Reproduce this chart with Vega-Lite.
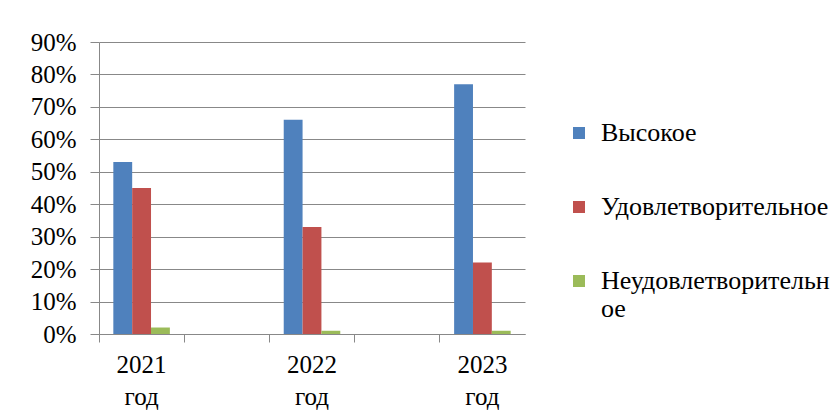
{
  "$schema": "https://vega.github.io/schema/vega-lite/v6.json",
  "width": 426,
  "height": 292,
  "autosize": "none",
  "padding": {"left": 99, "top": 42, "right": 313, "bottom": 85},
  "background": "white",
  "data": {
    "values": [
      {"year": "2021 год", "level": "Высокое", "share": 0.53},
      {"year": "2021 год", "level": "Удовлетворительное", "share": 0.45},
      {"year": "2021 год", "level": "Неудовлетворительное", "share": 0.02},
      {"year": "2022 год", "level": "Высокое", "share": 0.66},
      {"year": "2022 год", "level": "Удовлетворительное", "share": 0.33},
      {"year": "2022 год", "level": "Неудовлетворительное", "share": 0.01},
      {"year": "2023 год", "level": "Высокое", "share": 0.77},
      {"year": "2023 год", "level": "Удовлетворительное", "share": 0.22},
      {"year": "2023 год", "level": "Неудовлетворительное", "share": 0.01}
    ]
  },
  "mark": {"type": "bar"},
  "encoding": {
    "x": {
      "field": "year",
      "type": "nominal",
      "scale": {
        "domain": ["2021 год", "gap1", "2022 год", "gap2", "2023 год"],
        "paddingInner": 0,
        "paddingOuter": 0
      },
      "axis": {
        "title": null,
        "bandPosition": 0,
        "tickSize": 8,
        "tickColor": "#888888",
        "domainColor": "#888888",
        "labelAngle": 0,
        "labelPadding": 10,
        "labelFont": "Liberation Serif",
        "labelFontSize": 25,
        "labelLineHeight": 32,
        "labelColor": "black",
        "labelExpr": "indexof(datum.value, 'gap') == 0 ? '' : split(datum.value, ' ')"
      }
    },
    "xOffset": {
      "field": "level",
      "type": "nominal",
      "scale": {
        "domain": ["Высокое", "Удовлетворительное", "Неудовлетворительное"],
        "paddingInner": 0,
        "paddingOuter": 0.76
      }
    },
    "y": {
      "field": "share",
      "type": "quantitative",
      "scale": {"domain": [0, 0.9], "nice": false},
      "axis": {
        "title": null,
        "tickCount": 9,
        "format": ".0%",
        "tickSize": 9,
        "tickColor": "#888888",
        "domainColor": "#888888",
        "gridColor": "#888888",
        "labelPadding": 14,
        "labelFont": "Liberation Serif",
        "labelFontSize": 25,
        "labelColor": "black"
      }
    },
    "color": {
      "field": "level",
      "type": "nominal",
      "scale": {
        "domain": ["Высокое", "Удовлетворительное", "Неудовлетворительное"],
        "range": ["#4F81BD", "#C0504D", "#9BBB59"]
      },
      "legend": {
        "title": null,
        "orient": "none",
        "legendX": 467,
        "legendY": 78,
        "symbolType": "square",
        "symbolSize": 144,
        "symbolStrokeWidth": 0,
        "labelFont": "Liberation Serif",
        "labelFontSize": 26,
        "labelColor": "black",
        "labelLimit": 500,
        "labelOffset": 9,
        "labelLineHeight": 26,
        "rowPadding": 48,
        "labelExpr": "datum.label == 'Неудовлетворительное' ? ['Неудовлетворительн', 'ое'] : datum.label"
      }
    }
  },
  "config": {"view": {"stroke": null}}
}
